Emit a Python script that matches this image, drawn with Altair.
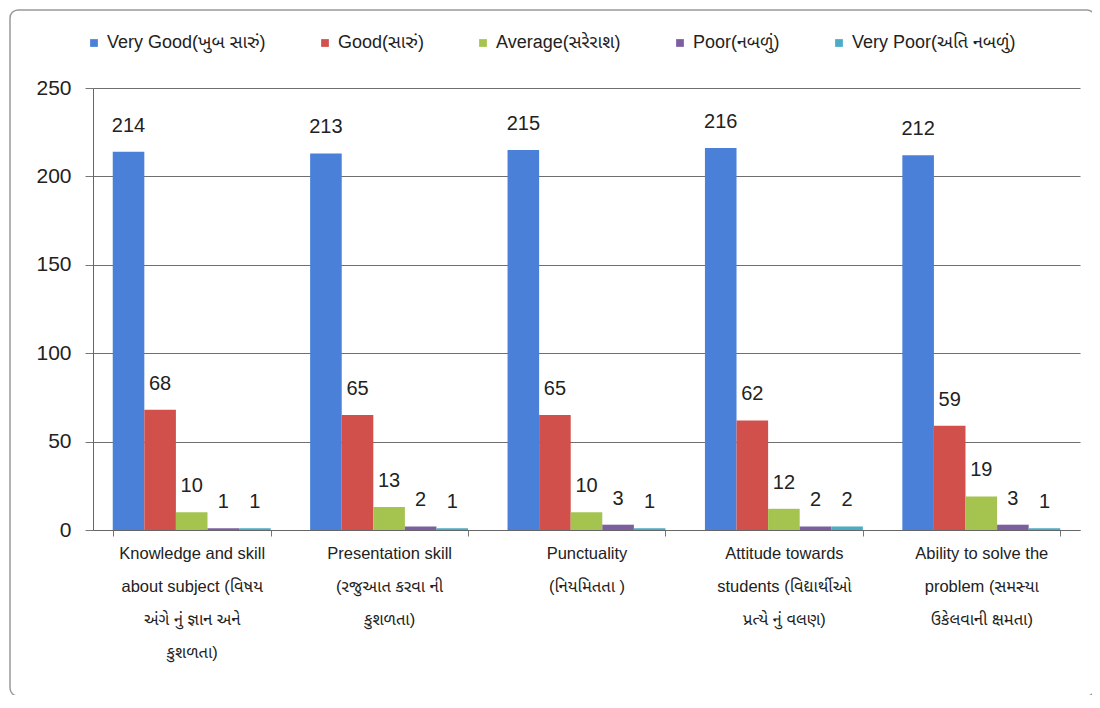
import altair as alt
import pandas as pd

categories = [
    "Knowledge and skill|about subject (વિષય|અંગે નું જ્ઞાન અને|કુશળતા)",
    "Presentation skill|(રજુઆત કરવા ની|કુશળતા)",
    "Punctuality|(નિયમિતતા )",
    "Attitude towards|students (વિદ્યાર્થીઓ|પ્રત્યે નું  વલણ)",
    "Ability to solve the|problem (સમસ્યા|ઉકેલવાની ક્ષમતા)",
]
series = [
    "Very Good(ખુબ સારું)",
    "Good(સારું)",
    "Average(સરેરાશ)",
    "Poor(નબળું)",
    "Very Poor(અતિ નબળું)",
]
very_good = [214, 213, 215, 216, 212]
good = [68, 65, 65, 62, 59]
average = [10, 13, 10, 12, 19]
poor = [1, 2, 3, 2, 3]
very_poor = [1, 1, 1, 2, 1]
colors = ["#4a80d8", "#d2504c", "#a4c44f", "#7d5fa0", "#4bacc6"]

values = [very_good, good, average, poor, very_poor]
rows = []
for s, vals in zip(series, values):
    for c, v in zip(categories, vals):
        rows.append({"category": c, "series": s, "value": v})
df = pd.DataFrame(rows)

FONT = "Liberation Sans, Noto Sans Gujarati, Noto Sans, sans-serif"

base = alt.Chart(df).encode(
    x=alt.X(
        "category:N",
        sort=categories,
        title=None,
        scale=alt.Scale(paddingInner=0.2, paddingOuter=0.1),
        axis=alt.Axis(
            labelExpr="split(datum.label, '|')",
            labelAngle=0,
            labelFontSize=16.5,
            labelLineHeight=33,
            labelPadding=9,
            labelColor="#222",
            labelFont=FONT,
            tickBand="extent",
            tickSize=6,
            tickColor="#777",
            domainColor="#666",
            labelBaseline="top",
            labelLimit=300,
        ),
    ),
    xOffset=alt.XOffset("series:N", sort=series, scale=alt.Scale(paddingInner=0, paddingOuter=0)),
    y=alt.Y(
        "value:Q",
        title=None,
        scale=alt.Scale(domain=[0, 250], nice=False),
        axis=alt.Axis(
            values=[0, 50, 100, 150, 200, 250],
            labelFontSize=21,
            labelColor="#222",
            labelFont=FONT,
            labelPadding=14,
            tickSize=8,
            tickColor="#777",
            domainColor="#666",
            gridColor="#6f6f6f",
            gridWidth=1,
        ),
    ),
)

bars = base.mark_bar().encode(
    color=alt.Color(
        "series:N",
        sort=series,
        scale=alt.Scale(domain=series, range=colors),
        legend=alt.Legend(
            title=None,
            orient="none",
            direction="horizontal",
            legendX=-8,
            legendY=-54,
            symbolType="square",
            symbolSize=60,
            labelFontSize=18,
            labelFont=FONT,
            labelColor="#222",
            labelLimit=400,
            columnPadding=50,
        ),
    )
)

labels = base.mark_text(dy=-16, fontSize=20, font=FONT, color="#222", baseline="bottom").encode(
    text="value:Q"
)

border = alt.Chart(pd.DataFrame({"a": [0]})).mark_rect(
    fill=None, stroke="#999", strokeWidth=1.5, cornerRadius=8
).encode(
    x=alt.value(-83), x2=alt.value(1002), y=alt.value(-78), y2=alt.value(608)
)

chart = (
    alt.layer(border, bars, labels)
    .properties(
        width=987,
        height=442,
        autosize=alt.AutoSizeParams(type="none"),
        padding={"left": 85, "top": 80, "right": 12, "bottom": 165},
        background="white",
    )
    .configure_view(stroke=None)
)

chart.save("out.html", embed_options={"renderer": "svg", "actions": False})
